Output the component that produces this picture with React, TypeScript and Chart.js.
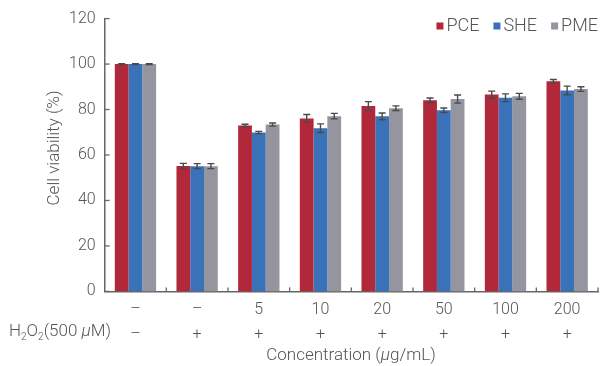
import React, { useEffect, useRef } from "react";
import { Chart, registerables } from "chart.js";

Chart.register(...registerables);

const concLabels = ["–", "–", "5", "10", "20", "50", "100", "200"];
const h2o2Labels = ["–", "+", "+", "+", "+", "+", "+", "+"];
const seriesNames = ["PCE", "SHE", "PME"];
const pce = [100, 55.2, 73.0, 76.1, 81.5, 84.1, 86.6, 92.4];
const she = [100, 55.1, 69.9, 71.8, 77.0, 79.7, 85.2, 88.4];
const pme = [100, 55.1, 73.4, 77.1, 80.6, 84.6, 85.8, 89.0];
const pceErr = [0.2, 1.1, 0.5, 1.7, 2.0, 1.0, 1.5, 0.8];
const sheErr = [0.2, 1.1, 0.5, 1.9, 1.5, 1.0, 1.7, 1.9];
const pmeErr = [0.2, 1.1, 0.7, 1.2, 1.0, 1.8, 1.3, 1.0];
const yTicks = [0, 20, 40, 60, 80, 100, 120];

const colors = ["#B0283A", "#3A72B9", "#94959F"];
const FONT = "Roboto";
const TEXT = "#555";
const AXIS = "#666";

const overlay = {
  id: "overlay",
  afterDraw(chart: any) {
    const ctx = chart.ctx;
    const xs = chart.scales.x;
    const ys = chart.scales.y;
    const errs = [pceErr, sheErr, pmeErr];
    const vals = [pce, she, pme];
    ctx.save();
    // error bars
    ctx.strokeStyle = "#4a4a4a";
    ctx.lineWidth = 1.4;
    for (let d = 0; d < 3; d++) {
      const meta = chart.getDatasetMeta(d);
      meta.data.forEach((bar: any, j: number) => {
        const x = bar.x;
        const yHi = ys.getPixelForValue(vals[d][j] + errs[d][j]);
        const yLo = ys.getPixelForValue(vals[d][j] - errs[d][j]);
        ctx.beginPath();
        ctx.moveTo(x, yHi);
        ctx.lineTo(x, yLo);
        ctx.moveTo(x - 3.5, yHi);
        ctx.lineTo(x + 3.5, yHi);
        ctx.moveTo(x - 3.5, yLo);
        ctx.lineTo(x + 3.5, yLo);
        ctx.stroke();
      });
    }
    // inner tick marks
    ctx.strokeStyle = AXIS;
    ctx.lineWidth = 1.3;
    const n = concLabels.length;
    for (let k = 1; k <= n; k++) {
      const x = xs.left + (k * (xs.right - xs.left)) / n;
      ctx.beginPath();
      ctx.moveTo(x, xs.top);
      ctx.lineTo(x, xs.top - 4);
      ctx.stroke();
    }
    yTicks.forEach((v) => {
      const y = ys.getPixelForValue(v);
      ctx.beginPath();
      ctx.moveTo(ys.right, y);
      ctx.lineTo(ys.right + 5, y);
      ctx.stroke();
    });
    const big = `300 17px ${FONT}`;
    const ital = `italic 300 17px ${FONT}`;
    const small = `300 10px ${FONT}`;
    // legend
    ctx.font = `300 18px ${FONT}`;
    ctx.textBaseline = "middle";
    ctx.textAlign = "left";
    const widths = seriesNames.map((s) => ctx.measureText(s).width);
    let total = 0;
    widths.forEach((w, i) => {
      total += 10 + w + (i < widths.length - 1 ? 14 : 0);
    });
    let lx = chart.chartArea.right - total;
    const ly = 26;
    seriesNames.forEach((s, i) => {
      ctx.fillStyle = colors[i];
      ctx.fillRect(lx, ly - 3.5, 7, 7);
      ctx.fillStyle = TEXT;
      ctx.fillText(s, lx + 10, ly);
      lx += 10 + widths[i] + 14;
    });
    // y title
    ctx.save();
    ctx.translate(55, 148);
    ctx.rotate(-Math.PI / 2);
    ctx.textAlign = "center";
    ctx.font = big;
    ctx.fillText("Cell viability (%)", 0, 0);
    ctx.restore();
    // H2O2 label
    const rowY = 332;
    let hx = 9;
    const parts: [string, string, number][] = [
      ["H", big, 0],
      ["2", small, 5],
      ["O", big, 0],
      ["2", small, 5],
      ["(500 ", big, 0],
      ["μ", ital, 0],
      ["M)", big, 0],
    ];
    parts.forEach(([t, f, dy]) => {
      ctx.font = f;
      ctx.fillText(t, hx, rowY + dy);
      hx += ctx.measureText(t).width;
    });
    // x title
    const tParts: [string, string][] = [
      ["Concentration (", big],
      ["μ", ital],
      ["g/mL)", big],
    ];
    let tw = 0;
    tParts.forEach(([t, f]) => {
      ctx.font = f;
      tw += ctx.measureText(t).width;
    });
    let tx = 351 - tw / 2;
    tParts.forEach(([t, f]) => {
      ctx.font = f;
      ctx.fillText(t, tx, 356);
      tx += ctx.measureText(t).width;
    });
    ctx.restore();
  },
};

export default function App() {
  const ref = useRef<HTMLCanvasElement | null>(null);
  useEffect(() => {
    document.body.style.margin = "0";
    const labels = concLabels.map((c, i) => [c, h2o2Labels[i]]);
    const chart = new Chart(ref.current as HTMLCanvasElement, {
      type: "bar",
      data: {
        labels,
        datasets: [pce, she, pme].map((d, i) => ({
          label: seriesNames[i],
          data: d,
          backgroundColor: colors[i],
          borderWidth: 0,
          categoryPercentage: 0.67,
          barPercentage: 1.0,
        })),
      },
      options: {
        animation: false,
        responsive: false,
        devicePixelRatio: 1,
        layout: { padding: { top: 18, right: 2, bottom: 13, left: 60 } },
        plugins: { legend: { display: false }, tooltip: { enabled: false } },
        scales: {
          x: {
            grid: { display: false, drawTicks: false },
            border: { display: true, color: AXIS, width: 1.5 },
            ticks: {
              color: TEXT,
              font: { family: FONT, size: 16, weight: "300", lineHeight: 1.55 },
              padding: 6,
              maxRotation: 0,
              autoSkip: false,
            },
          },
          y: {
            min: 0,
            max: 120,
            grid: { display: false, drawTicks: false },
            border: { display: true, color: AXIS, width: 1.5 },
            ticks: {
              stepSize: 20,
              color: TEXT,
              font: { family: FONT, size: 16, weight: "300" },
              padding: 9,
            },
          },
        },
      },
      plugins: [overlay],
    });
    return () => chart.destroy();
  }, []);
  return <canvas ref={ref} width={600} height={366} style={{ display: "block" }} />;
}
